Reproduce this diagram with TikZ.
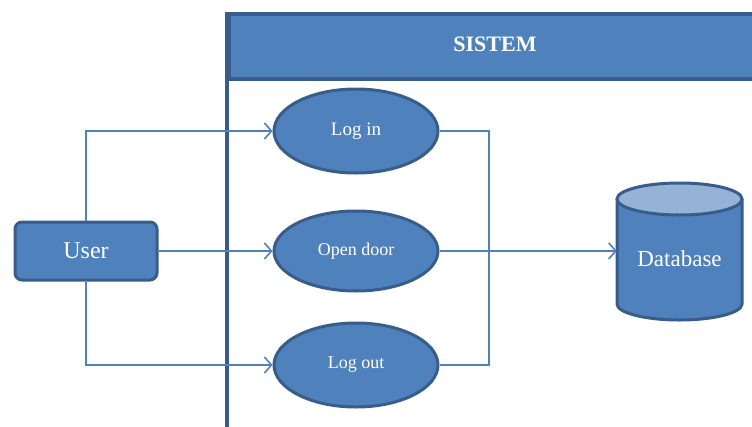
\documentclass[tikz,border=0pt]{standalone}
\usepackage{fontspec}
\setmainfont{Liberation Serif}
\usetikzlibrary{arrows.meta,shapes.geometric}
\definecolor{fillblue}{HTML}{4F81BD}
\definecolor{edgeblue}{HTML}{385D8A}
\definecolor{lightblue}{HTML}{95B3D7}
\tikzset{
  usecase/.style={ellipse, draw=edgeblue, line width=3pt, fill=fillblue, text=white, minimum width=164pt, minimum height=84pt, inner sep=0pt, font=\fontsize{19}{21}\selectfont},
  actorbox/.style={rounded corners=7pt, draw=edgeblue, line width=3pt, fill=fillblue, text=white, minimum width=142pt, minimum height=58pt, font=\fontsize{24}{26}\selectfont},
  link/.style={draw=fillblue, line width=1.6pt},
  linkarrow/.style={link, -{Straight Barb[length=7pt,width=16pt,line width=1.6pt]}}
}
\begin{document}
\begin{tikzpicture}[x=1pt,y=-1pt]
\useasboundingbox (0,0) rectangle (752,426);
% system frame
\draw[edgeblue, line width=3.5pt] (227,12) -- (227,430);
\node[draw=edgeblue, line width=3.5pt, fill=fillblue, minimum width=540pt, minimum height=65pt, anchor=north west, inner sep=0pt] (hdr) at (227,12) {};
\node[text=white, font=\bfseries\fontsize{22}{24}\selectfont] (title) at (495,44) {SISTEM};
% use cases
\node[usecase] (login) at (356,131) {Log in};
\node[usecase, minimum height=80pt, font=\fontsize{18}{20}\selectfont] (open) at (356,251) {Open door};
\node[usecase, font=\fontsize{18}{20}\selectfont] (logout) at (356,365) {Log out};
% actor
\node[actorbox] (user) at (86,251) {User};
% database
\fill[fillblue] (617,199) -- (617,304) arc[start angle=180, end angle=360, x radius=62.5pt, y radius=16pt] -- (742,199) -- cycle;
\draw[edgeblue, line width=3pt] (617,199) -- (617,304) arc[start angle=180, end angle=360, x radius=62.5pt, y radius=16pt] -- (742,199);
\draw[edgeblue, line width=3pt, fill=lightblue] (679.5,199) ellipse[x radius=62.5pt, y radius=16pt];
\node[text=white, font=\fontsize{23}{25}\selectfont, minimum width=125pt, minimum height=100pt, inner sep=0pt] (db) at (679.5,259) {Database};
% connectors
\draw[linkarrow] (user.north) |- (login.west);
\draw[linkarrow] (user.east) -- (open.west);
\draw[linkarrow] (user.south) |- (logout.west);
\coordinate (join) at (489,131);
\draw[link] (login.east) -- (join) -- (join |- logout.east) -- (logout.east);
\draw[linkarrow] (open.east) -- (open.east -| db.west);
\end{tikzpicture}
\end{document}
